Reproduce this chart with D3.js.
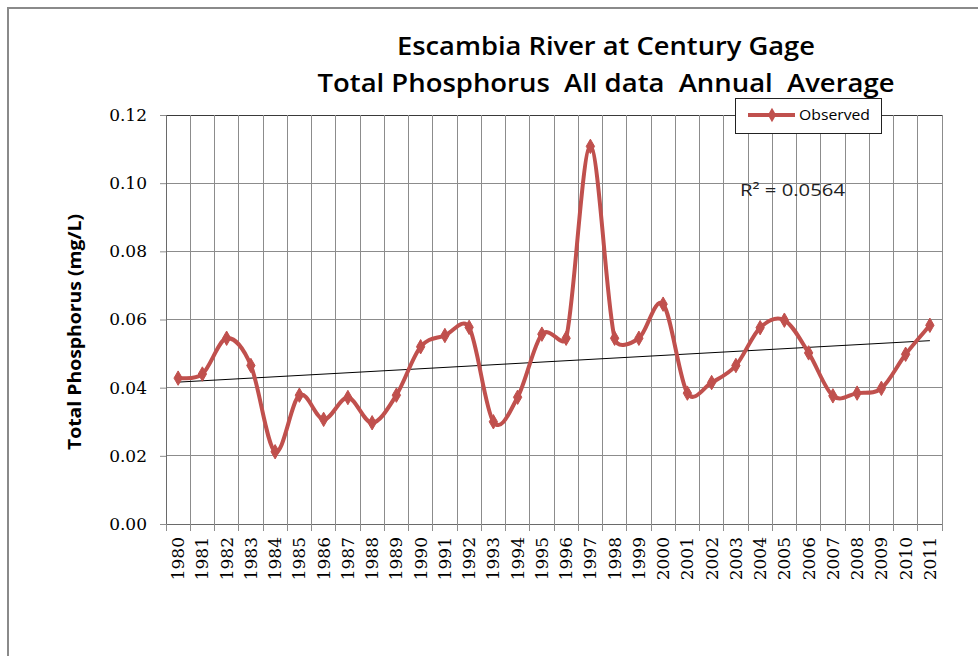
<!DOCTYPE html>
<html>
<head>
<meta charset="utf-8">
<script src="https://cdn.jsdelivr.net/npm/d3@7"></script>
<style>
  html, body { margin: 0; padding: 0; background: #fff; }
  svg { display: block; }
  text.pre { white-space: pre; }
</style>
</head>
<body>
<div id="chart"></div>
<script>
// data (annual average, mg/L)
const years = d3.range(1980, 2012).map(String);
const observed = [
  0.0428, 0.0440, 0.0545, 0.0465, 0.0212, 0.0378, 0.0307, 0.0371,
  0.0297, 0.0378, 0.0520, 0.0553, 0.0577, 0.0300, 0.0372, 0.0557,
  0.0545, 0.1108, 0.0545, 0.0545, 0.0645, 0.0384, 0.0415, 0.0465,
  0.0576, 0.0598, 0.0502, 0.0376, 0.0384, 0.0398, 0.0498, 0.0583
];
const yTicks = [0, 0.02, 0.04, 0.06, 0.08, 0.10, 0.12];
const titleLines = ["Escambia River at Century Gage", "Total Phosphorus  All data  Annual  Average"];
const yTitle = "Total Phosphorus (mg/L)";
const seriesName = "Observed";
const r2Label = "R² = 0.0564";

const width = 978;
const height = 656;
const plotL = 166, plotR = 942, plotT = 115, plotB = 524;
const red = "#C0504D";
const gridColor = "#8c8c8c";
const sans = "'Open Sans', 'DejaVu Sans', sans-serif";
const serif = "'DejaVu Serif', 'Liberation Serif', serif";

const svg = d3.select("#chart").append("svg")
  .attr("width", width)
  .attr("height", height);

// outer chart frame (only top/left visible)
svg.append("path")
  .attr("d", `M8,${height + 2}V8H${width + 2}`)
  .attr("fill", "none")
  .attr("stroke", "#8a8a8a")
  .attr("stroke-width", 2);

const x = d3.scaleBand().domain(years).range([plotL, plotR]).padding(0);
const y = d3.scaleLinear().domain([0, 0.12]).range([plotB, plotT]);
const cx = d => x(d) + x.bandwidth() / 2;

// gridlines
const grid = svg.append("g");
grid.selectAll("line.h")
  .data(yTicks)
  .join("line")
  .attr("x1", plotL).attr("x2", plotR)
  .attr("y1", d => y(d)).attr("y2", d => y(d))
  .attr("stroke", d => d === 0.12 ? "#3a3a3a" : gridColor)
  .attr("stroke-width", 1)
  .attr("shape-rendering", "crispEdges");

const edges = years.map(d => x(d)).concat([plotR]);
grid.selectAll("line.v")
  .data(edges)
  .join("line")
  .attr("x1", d => d).attr("x2", d => d)
  .attr("y1", plotT).attr("y2", plotB)
  .attr("stroke", (d, i) => i === 0 ? "#6a6a6a" : gridColor)
  .attr("stroke-width", 1)
  .attr("shape-rendering", "crispEdges");

// y axis
const gy = svg.append("g").attr("transform", `translate(${plotL},0)`)
  .call(d3.axisLeft(y).tickValues(yTicks).tickFormat(d3.format(".2f")).tickSize(6).tickPadding(13));
gy.select(".domain").attr("stroke", "#6a6a6a");
gy.selectAll(".tick line").attr("stroke", gridColor);
gy.selectAll("text").attr("font-family", serif).attr("font-size", 17).attr("fill", "#000");

// x axis (ticks on category edges)
const gx = svg.append("g").attr("transform", `translate(0,${plotB})`);
gx.append("line").attr("x1", plotL).attr("x2", plotR).attr("stroke", "#6a6a6a")
  .attr("shape-rendering", "crispEdges");
gx.selectAll("line.tk")
  .data(edges)
  .join("line")
  .attr("x1", d => d).attr("x2", d => d)
  .attr("y1", 0).attr("y2", 7)
  .attr("stroke", gridColor)
  .attr("shape-rendering", "crispEdges");
gx.selectAll("text")
  .data(years)
  .join("text")
  .attr("transform", d => `translate(${cx(d) + 6},13) rotate(-90)`)
  .attr("text-anchor", "end")
  .attr("font-family", serif)
  .attr("font-size", 17)
  .attr("fill", "#000")
  .text(d => d);

// y axis title
svg.append("text")
  .attr("transform", `translate(81,332) rotate(-90)`)
  .attr("text-anchor", "middle")
  .attr("font-family", sans)
  .attr("font-weight", 700)
  .attr("font-size", 17)
  .attr("textLength", 236)
  .attr("lengthAdjust", "spacingAndGlyphs")
  .text(yTitle);

// title
svg.append("text")
  .attr("class", "pre")
  .attr("x", 606).attr("y", 55)
  .attr("text-anchor", "middle")
  .attr("font-family", sans).attr("font-weight", 600).attr("font-size", 25)
  .attr("textLength", 418).attr("lengthAdjust", "spacingAndGlyphs")
  .text(titleLines[0]);
svg.append("text")
  .attr("class", "pre")
  .attr("x", 606).attr("y", 92)
  .attr("text-anchor", "middle")
  .attr("font-family", sans).attr("font-weight", 600).attr("font-size", 25)
  .attr("textLength", 577).attr("lengthAdjust", "spacingAndGlyphs")
  .text(titleLines[1]);

// linear trend line
const idx = years.map((d, i) => i);
const mx = d3.mean(idx), my = d3.mean(observed);
const slope = d3.sum(idx, i => (i - mx) * (observed[i] - my)) / d3.sum(idx, i => (i - mx) ** 2);
const intercept = my - slope * mx;
const first = 0, last = years.length - 1;
svg.append("line")
  .attr("x1", cx(years[first])).attr("y1", y(intercept + slope * first))
  .attr("x2", cx(years[last])).attr("y2", y(intercept + slope * last))
  .attr("stroke", "#000")
  .attr("stroke-width", 1);

// smoothed line, spreadsheet style: bezier arms = (next - prev)/6, capped at half the segment
function smoothPath(p) {
  const path = d3.path();
  const dist = (a, b) => Math.hypot(b[0] - a[0], b[1] - a[1]);
  const arm = (a, b, cap) => {
    let dx = (b[0] - a[0]) / 6, dy = (b[1] - a[1]) / 6;
    const len = Math.hypot(dx, dy);
    if (len > cap && len > 0) { dx *= cap / len; dy *= cap / len; }
    return [dx, dy];
  };
  path.moveTo(p[0][0], p[0][1]);
  for (let i = 0; i < p.length - 1; i++) {
    const p0 = p[Math.max(0, i - 1)], p1 = p[i], p2 = p[i + 1], p3 = p[Math.min(p.length - 1, i + 2)];
    const half = dist(p1, p2) / 2;
    const a1 = arm(p0, p2, half), a2 = arm(p1, p3, half);
    path.bezierCurveTo(p1[0] + a1[0], p1[1] + a1[1], p2[0] - a2[0], p2[1] - a2[1], p2[0], p2[1]);
  }
  return path.toString();
}

const pts = years.map((d, i) => ({ year: d, v: observed[i] }));
svg.append("path")
  .attr("fill", "none")
  .attr("stroke", red)
  .attr("stroke-width", 4)
  .attr("stroke-linejoin", "round")
  .attr("d", smoothPath(pts.map(d => [cx(d.year), y(d.v)])));

const diamond = d3.symbol().type(d3.symbolDiamond).size(60);
svg.append("g").selectAll("path")
  .data(pts)
  .join("path")
  .attr("transform", d => `translate(${cx(d.year)},${y(d.v)})`)
  .attr("d", diamond)
  .attr("fill", red)
  .attr("stroke", red);

// R² label
svg.append("text")
  .attr("x", 740).attr("y", 196)
  .attr("font-family", sans).attr("font-size", 17)
  .attr("fill", "#222")
  .attr("textLength", 105).attr("lengthAdjust", "spacingAndGlyphs")
  .text(r2Label);

// legend
const lg = svg.append("g").attr("transform", "translate(735,98)");
lg.append("rect").attr("width", 146).attr("height", 35)
  .attr("fill", "#fff").attr("stroke", "#222").attr("stroke-width", 1)
  .attr("shape-rendering", "crispEdges");
lg.append("line").attr("x1", 13).attr("x2", 60).attr("y1", 17).attr("y2", 17)
  .attr("stroke", red).attr("stroke-width", 4);
lg.append("path").attr("transform", "translate(37,17)").attr("d", diamond).attr("fill", red);
lg.append("text").attr("x", 64).attr("y", 22)
  .attr("font-family", sans).attr("font-size", 14)
  .attr("textLength", 71).attr("lengthAdjust", "spacingAndGlyphs")
  .text(seriesName);
</script>
</body>
</html>
